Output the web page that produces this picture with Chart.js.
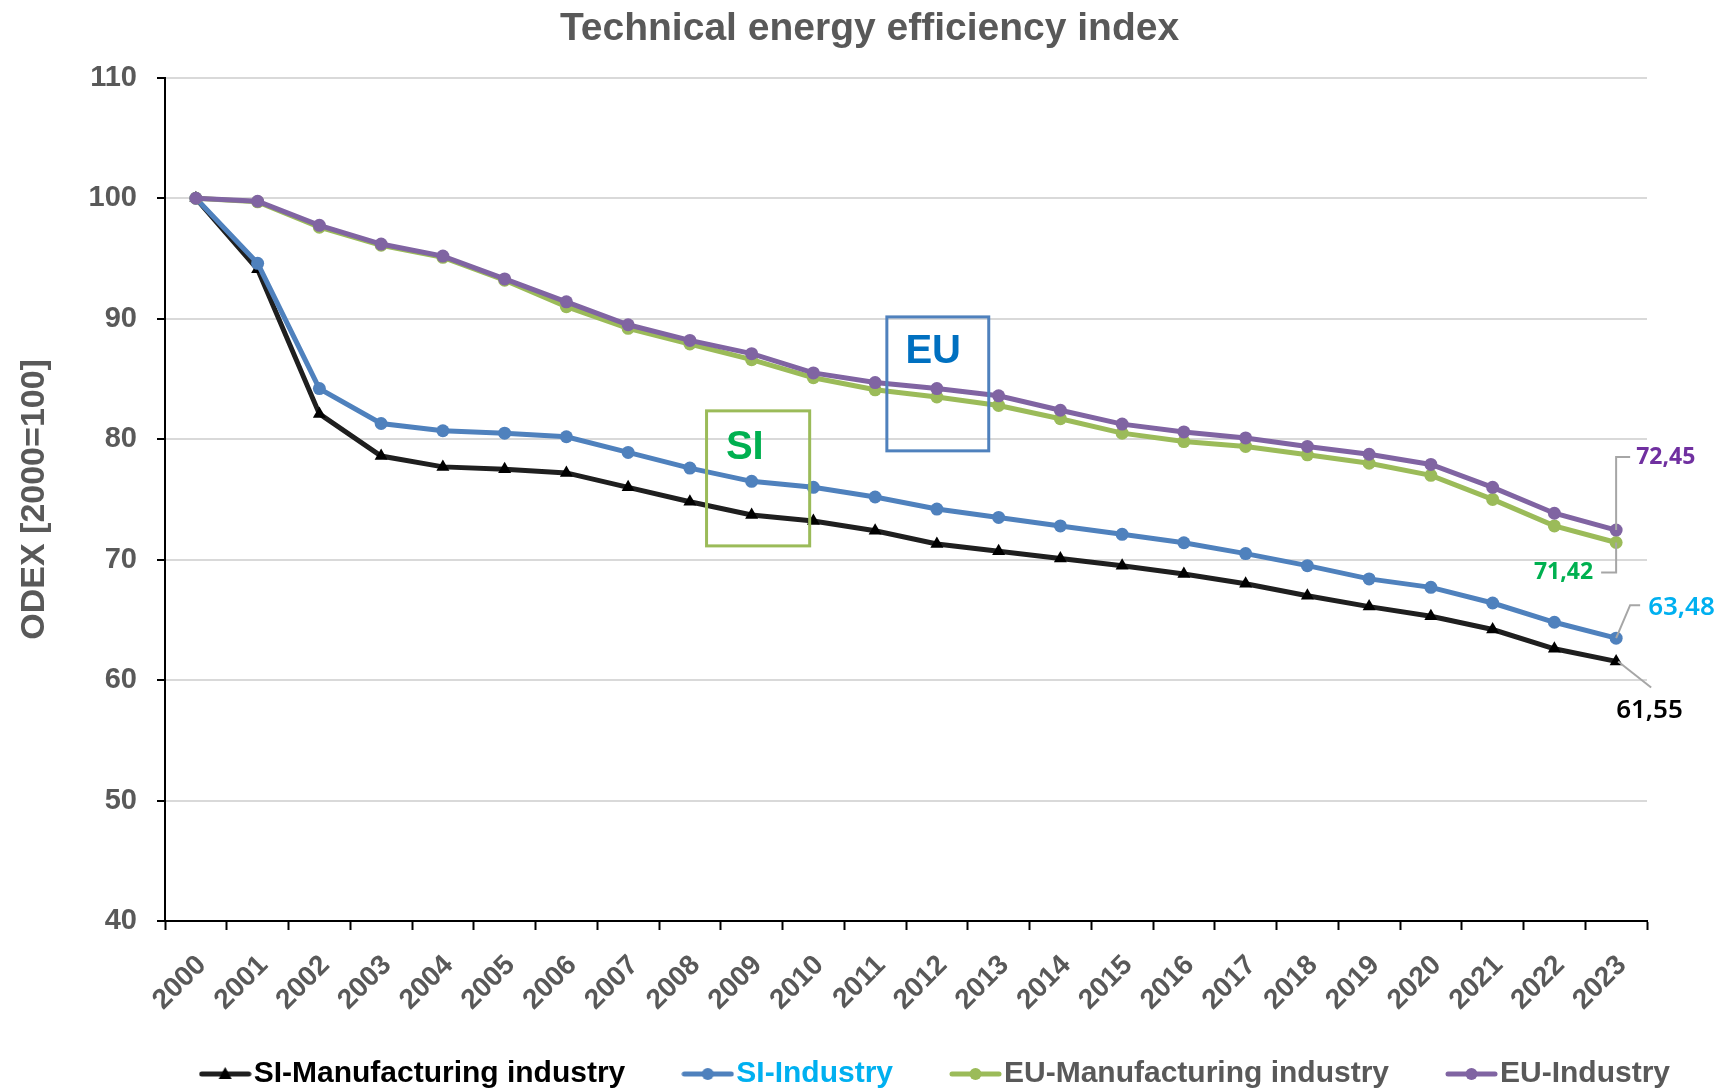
<!DOCTYPE html>
<html lang="en">
<head>
    <meta charset="UTF-8">
    <title>Technical energy efficiency index</title>
    <script src="https://cdn.jsdelivr.net/npm/chart.js"></script>
    <style>
        html, body { margin: 0; padding: 0; background: #fff; }
        #wrap { width: 1724px; height: 1092px; }
    </style>
</head>
<body>
<div id="wrap"><canvas id="myChart"></canvas></div>
<script>
    const years = ["2000","2001","2002","2003","2004","2005","2006","2007","2008","2009","2010","2011",
                   "2012","2013","2014","2015","2016","2017","2018","2019","2020","2021","2022","2023"];

    const siManufacturing = [100, 94.1, 82.1, 78.6, 77.7, 77.5, 77.2, 76.0, 74.8, 73.7, 73.2, 72.4,
                             71.3, 70.7, 70.1, 69.5, 68.8, 68.0, 67.0, 66.1, 65.3, 64.2, 62.6, 61.55];
    const siIndustry = [100, 94.6, 84.2, 81.3, 80.7, 80.5, 80.2, 78.9, 77.6, 76.5, 76.0, 75.2,
                        74.2, 73.5, 72.8, 72.1, 71.4, 70.5, 69.5, 68.4, 67.7, 66.4, 64.8, 63.48];
    const euManufacturing = [100, 99.7, 97.6, 96.1, 95.1, 93.2, 91.0, 89.2, 87.9, 86.6, 85.1, 84.1,
                             83.5, 82.8, 81.7, 80.5, 79.8, 79.4, 78.7, 78.0, 77.0, 75.0, 72.8, 71.42];
    const euIndustry = [100, 99.75, 97.75, 96.2, 95.2, 93.3, 91.4, 89.5, 88.2, 87.1, 85.5, 84.7,
                        84.2, 83.6, 82.4, 81.25, 80.6, 80.1, 79.4, 78.75, 77.9, 76.0, 73.85, 72.45];

    const seriesNames = ["SI-Manufacturing industry", "SI-Industry", "EU-Manufacturing industry", "EU-Industry"];
    const yTicks = [40, 50, 60, 70, 80, 90, 100, 110];

    const FONT = "'Liberation Sans', Arial, sans-serif";
    const GREY = "#595959";

    // little line+marker pictures for the legend
    function legendIcon(color, style) {
        const c = document.createElement("canvas");
        c.width = 53; c.height = 20;
        const g = c.getContext("2d");
        g.strokeStyle = color; g.lineWidth = 5; g.lineCap = "round";
        g.beginPath(); g.moveTo(3, 10); g.lineTo(50, 10); g.stroke();
        g.fillStyle = style === "triangle" ? "#000" : color;
        g.beginPath();
        if (style === "triangle") {
            g.moveTo(26.5, 3); g.lineTo(33, 15); g.lineTo(20, 15); g.closePath();
        } else {
            g.arc(26.5, 10, 6, 0, Math.PI * 2);
        }
        g.fill();
        return c;
    }

    const legendColors = ["#000000", "#00B0F0", GREY, GREY];

    // SI / EU boxes and end labels
    const notesPlugin = {
        id: "notes",
        afterDatasetsDraw(chart) {
            const ctx = chart.ctx;
            const x = chart.scales.x, y = chart.scales.y;
            const boxes = [
                { text: "SI", x0: 8.27, x1: 9.94, y0: 82.35, y1: 71.14, tx: 8.89, ty: 79.3, border: "#9BBB59", color: "#00B050" },
                { text: "EU", x0: 11.19, x1: 12.84, y0: 90.15, y1: 79.03, tx: 11.94, ty: 87.2, border: "#4F81BD", color: "#0070C0" }
            ];
            ctx.save();
            boxes.forEach(b => {
                const l = x.getPixelForValue(b.x0), r = x.getPixelForValue(b.x1);
                const t = y.getPixelForValue(b.y0), bt = y.getPixelForValue(b.y1);
                ctx.lineWidth = 3;
                ctx.strokeStyle = b.border;
                ctx.strokeRect(l, t, r - l, bt - t);
                ctx.fillStyle = b.color;
                ctx.font = "bold 40px " + FONT;
                ctx.textAlign = "center";
                ctx.textBaseline = "middle";
                ctx.fillText(b.text, x.getPixelForValue(b.tx), y.getPixelForValue(b.ty));
            });

            // value labels at 2023 with leader lines
            const last = years.length - 1;
            const pt = i => chart.getDatasetMeta(i).data[last];
            const fmt = v => v.toFixed(2).replace(".", ",");
            const labels = [
                { ds: 2, path: [[0, 0], [0, 30], [-15, 30]], tx: -23, ty: 30, align: "right", font: "bold 23px 'Noto Sans', sans-serif", color: "#00B050" },
                { ds: 3, path: [[0, 0], [0, -73], [14, -73]], tx: 20, ty: -73, align: "left", font: "bold 23px 'Noto Sans', sans-serif", color: "#7030A0" },
                { ds: 1, path: [[0, 0], [14, -33], [24, -33]], tx: 32, ty: -31, align: "left", font: "600 26px 'Noto Sans', sans-serif", color: "#00B0F0" },
                { ds: 0, path: [[2, 0], [35, 26]], tx: 0, ty: 49, align: "left", font: "600 26px 'Noto Sans', sans-serif", color: "#000000" }
            ];
            labels.forEach(lb => {
                const p = pt(lb.ds);
                ctx.strokeStyle = "#A6A6A6";
                ctx.lineWidth = 2;
                ctx.beginPath();
                lb.path.forEach((q, k) => {
                    if (k === 0) ctx.moveTo(p.x + q[0], p.y + q[1]);
                    else ctx.lineTo(p.x + q[0], p.y + q[1]);
                });
                ctx.stroke();
                ctx.font = lb.font;
                ctx.fillStyle = lb.color;
                ctx.textAlign = lb.align;
                ctx.textBaseline = "middle";
                ctx.fillText(fmt(chart.data.datasets[lb.ds].data[last]), p.x + lb.tx, p.y + lb.ty);
            });
            ctx.restore();
        }
    };

    const data = {
        labels: years,
        datasets: [
            { label: seriesNames[0], data: siManufacturing, borderColor: "#1F1F1F", backgroundColor: "#000",
              pointStyle: "triangle", pointRadius: 7.5, pointBorderWidth: 0, borderWidth: 5, order: 4, icon: legendIcon("#1F1F1F", "triangle") },
            { label: seriesNames[1], data: siIndustry, borderColor: "#4F81BD", backgroundColor: "#4F81BD",
              pointStyle: "circle", pointRadius: 6.5, pointBorderWidth: 0, borderWidth: 5, order: 3, icon: legendIcon("#4F81BD", "circle") },
            { label: seriesNames[2], data: euManufacturing, borderColor: "#9BBB59", backgroundColor: "#9BBB59",
              pointStyle: "circle", pointRadius: 6.5, pointBorderWidth: 0, borderWidth: 5, order: 2, icon: legendIcon("#9BBB59", "circle") },
            { label: seriesNames[3], data: euIndustry, borderColor: "#8064A2", backgroundColor: "#8064A2",
              pointStyle: "circle", pointRadius: 6.5, pointBorderWidth: 0, borderWidth: 5, order: 1, icon: legendIcon("#8064A2", "circle") }
        ]
    };

    const configs = {
        type: "line",
        data: data,
        plugins: [notesPlugin],
        options: {
            responsive: true,
            maintainAspectRatio: false,
            animation: false,
            layout: { padding: { left: 0, right: -15, top: 0, bottom: -7 } },
            elements: { line: { tension: 0 } },
            plugins: {
                title: {
                    display: true,
                    text: "Technical energy efficiency index",
                    color: GREY,
                    font: { family: FONT, size: 39, weight: "bold" },
                    padding: { top: 6, bottom: 25 }
                },
                legend: {
                    position: "bottom",
                    align: "end",
                    labels: {
                        usePointStyle: true,
                        pointStyleWidth: 27,
                        padding: 69,
                        font: { family: FONT, size: 30, weight: "bold" },
                        generateLabels(chart) {
                            return chart.data.datasets.map((ds, i) => ({
                                text: ds.label,
                                fontColor: legendColors[i],
                                pointStyle: ds.icon,
                                lineWidth: 0,
                                hidden: false,
                                datasetIndex: i
                            }));
                        }
                    }
                },
                tooltip: { enabled: false }
            },
            scales: {
                x: {
                    offset: true,
                    grid: { offset: true, drawOnChartArea: false, tickLength: 9, tickWidth: 2, tickColor: "#000" },
                    border: { color: "#000", width: 2 },
                    ticks: {
                        autoSkip: false, maxRotation: 45, minRotation: 45, padding: 19, labelOffset: 6,
                        color: GREY, font: { family: FONT, size: 28, weight: "bold" }
                    },
                    afterFit(s) {
                        s.height = 69;
                        // the rotated years run a bit past the short axis box, so don't clip them
                        s._computeLabelArea = () => null;
                    }
                },
                y: {
                    min: 40, max: 110,
                    afterBuildTicks(s) { s.ticks = yTicks.map(v => ({ value: v })); },
                    grid: { color: "#D9D9D9", lineWidth: 2, tickLength: 8, tickWidth: 2, tickColor: "#000" },
                    border: { color: "#000", width: 2 },
                    ticks: { padding: 20, color: GREY, font: { family: FONT, size: 29, weight: "bold" } },
                    title: {
                        display: true, text: "ODEX [2000=100]", color: GREY,
                        font: { family: FONT, size: 34, weight: "bold" }, padding: { top: 14, bottom: 0 }
                    },
                    afterFit(s) { s.width = 165; }
                },
                y2: {
                    position: "right",
                    display: true,
                    grid: { display: false },
                    border: { display: false },
                    ticks: { display: false },
                    afterFit(s) { s.width = 92; }
                }
            }
        }
    };

    new Chart(document.getElementById("myChart"), configs);
</script>
</body>
</html>
